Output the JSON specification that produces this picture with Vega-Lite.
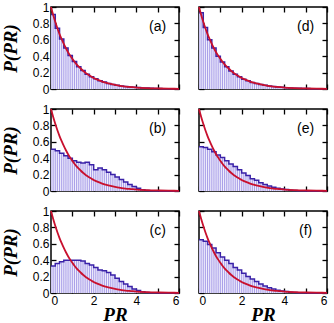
{
  "$schema": "https://vega.github.io/schema/vega-lite/v6.json",
  "padding": {"top": 0, "left": 0, "right": 5, "bottom": 0},
  "background": "white",
  "datasets": {
    "hist": [
      {"panel":"a","x":0,"p":0.91},{"panel":"a","x":0.2,"p":0.74},{"panel":"a","x":0.4,"p":0.61},{"panel":"a","x":0.6,"p":0.5},{"panel":"a","x":0.8,"p":0.41},{"panel":"a","x":1.0,"p":0.335},{"panel":"a","x":1.2,"p":0.27},{"panel":"a","x":1.4,"p":0.225},{"panel":"a","x":1.6,"p":0.18},{"panel":"a","x":1.8,"p":0.15},{"panel":"a","x":2.0,"p":0.125},{"panel":"a","x":2.2,"p":0.1},{"panel":"a","x":2.4,"p":0.085},{"panel":"a","x":2.6,"p":0.068},{"panel":"a","x":2.8,"p":0.056},{"panel":"a","x":3.0,"p":0.046},{"panel":"a","x":3.2,"p":0.037},{"panel":"a","x":3.4,"p":0.031},{"panel":"a","x":3.6,"p":0.025},{"panel":"a","x":3.8,"p":0.02},{"panel":"a","x":4.0,"p":0.017},{"panel":"a","x":4.2,"p":0.013},{"panel":"a","x":4.4,"p":0.011},{"panel":"a","x":4.6,"p":0.009},{"panel":"a","x":4.8,"p":0.007},{"panel":"a","x":5.0,"p":0.005},{"panel":"a","x":5.2,"p":0.004},{"panel":"a","x":5.4,"p":0.003},{"panel":"a","x":5.6,"p":0.003},{"panel":"a","x":5.8,"p":0.002},{"panel":"a","x":6.0,"p":0.002},
      {"panel":"d","x":0,"p":0.93},{"panel":"d","x":0.2,"p":0.75},{"panel":"d","x":0.4,"p":0.6},{"panel":"d","x":0.6,"p":0.5},{"panel":"d","x":0.8,"p":0.4},{"panel":"d","x":1.0,"p":0.33},{"panel":"d","x":1.2,"p":0.27},{"panel":"d","x":1.4,"p":0.22},{"panel":"d","x":1.6,"p":0.18},{"panel":"d","x":1.8,"p":0.15},{"panel":"d","x":2.0,"p":0.12},{"panel":"d","x":2.2,"p":0.1},{"panel":"d","x":2.4,"p":0.08},{"panel":"d","x":2.6,"p":0.066},{"panel":"d","x":2.8,"p":0.054},{"panel":"d","x":3.0,"p":0.045},{"panel":"d","x":3.2,"p":0.036},{"panel":"d","x":3.4,"p":0.03},{"panel":"d","x":3.6,"p":0.024},{"panel":"d","x":3.8,"p":0.02},{"panel":"d","x":4.0,"p":0.016},{"panel":"d","x":4.2,"p":0.013},{"panel":"d","x":4.4,"p":0.01},{"panel":"d","x":4.6,"p":0.008},{"panel":"d","x":4.8,"p":0.006},{"panel":"d","x":5.0,"p":0.005},{"panel":"d","x":5.2,"p":0.004},{"panel":"d","x":5.4,"p":0.003},{"panel":"d","x":5.6,"p":0.003},{"panel":"d","x":5.8,"p":0.002},{"panel":"d","x":6.0,"p":0.002},
      {"panel":"b","x":0,"p":0.51},{"panel":"b","x":0.2,"p":0.49},{"panel":"b","x":0.4,"p":0.46},{"panel":"b","x":0.6,"p":0.43},{"panel":"b","x":0.8,"p":0.4},{"panel":"b","x":1.0,"p":0.37},{"panel":"b","x":1.2,"p":0.35},{"panel":"b","x":1.4,"p":0.34},{"panel":"b","x":1.6,"p":0.35},{"panel":"b","x":1.8,"p":0.32},{"panel":"b","x":2.0,"p":0.26},{"panel":"b","x":2.2,"p":0.28},{"panel":"b","x":2.4,"p":0.26},{"panel":"b","x":2.6,"p":0.23},{"panel":"b","x":2.8,"p":0.2},{"panel":"b","x":3.0,"p":0.17},{"panel":"b","x":3.2,"p":0.14},{"panel":"b","x":3.4,"p":0.11},{"panel":"b","x":3.6,"p":0.08},{"panel":"b","x":3.8,"p":0.055},{"panel":"b","x":4.0,"p":0.035},{"panel":"b","x":4.2,"p":0.015},{"panel":"b","x":4.4,"p":0.007},{"panel":"b","x":4.6,"p":0.003},{"panel":"b","x":4.8,"p":0.002},{"panel":"b","x":5.0,"p":0.001},{"panel":"b","x":5.2,"p":0.001},{"panel":"b","x":5.4,"p":0.001},{"panel":"b","x":5.6,"p":0.001},{"panel":"b","x":5.8,"p":0.001},{"panel":"b","x":6.0,"p":0.001},
      {"panel":"e","x":0,"p":0.54},{"panel":"e","x":0.2,"p":0.53},{"panel":"e","x":0.4,"p":0.51},{"panel":"e","x":0.6,"p":0.48},{"panel":"e","x":0.8,"p":0.44},{"panel":"e","x":1.0,"p":0.41},{"panel":"e","x":1.2,"p":0.37},{"panel":"e","x":1.4,"p":0.33},{"panel":"e","x":1.6,"p":0.3},{"panel":"e","x":1.8,"p":0.26},{"panel":"e","x":2.0,"p":0.22},{"panel":"e","x":2.2,"p":0.19},{"panel":"e","x":2.4,"p":0.15},{"panel":"e","x":2.6,"p":0.13},{"panel":"e","x":2.8,"p":0.1},{"panel":"e","x":3.0,"p":0.08},{"panel":"e","x":3.2,"p":0.06},{"panel":"e","x":3.4,"p":0.045},{"panel":"e","x":3.6,"p":0.035},{"panel":"e","x":3.8,"p":0.025},{"panel":"e","x":4.0,"p":0.018},{"panel":"e","x":4.2,"p":0.01},{"panel":"e","x":4.4,"p":0.006},{"panel":"e","x":4.6,"p":0.003},{"panel":"e","x":4.8,"p":0.002},{"panel":"e","x":5.0,"p":0.001},{"panel":"e","x":5.2,"p":0.001},{"panel":"e","x":5.4,"p":0.001},{"panel":"e","x":5.6,"p":0.001},{"panel":"e","x":5.8,"p":0.001},{"panel":"e","x":6.0,"p":0.001},
      {"panel":"c","x":0,"p":0.33},{"panel":"c","x":0.2,"p":0.36},{"panel":"c","x":0.4,"p":0.38},{"panel":"c","x":0.6,"p":0.4},{"panel":"c","x":0.8,"p":0.4},{"panel":"c","x":1.0,"p":0.4},{"panel":"c","x":1.2,"p":0.4},{"panel":"c","x":1.4,"p":0.39},{"panel":"c","x":1.6,"p":0.36},{"panel":"c","x":1.8,"p":0.34},{"panel":"c","x":2.0,"p":0.31},{"panel":"c","x":2.2,"p":0.28},{"panel":"c","x":2.4,"p":0.27},{"panel":"c","x":2.6,"p":0.25},{"panel":"c","x":2.8,"p":0.22},{"panel":"c","x":3.0,"p":0.18},{"panel":"c","x":3.2,"p":0.14},{"panel":"c","x":3.4,"p":0.11},{"panel":"c","x":3.6,"p":0.08},{"panel":"c","x":3.8,"p":0.05},{"panel":"c","x":4.0,"p":0.03},{"panel":"c","x":4.2,"p":0.015},{"panel":"c","x":4.4,"p":0.007},{"panel":"c","x":4.6,"p":0.003},{"panel":"c","x":4.8,"p":0.002},{"panel":"c","x":5.0,"p":0.001},{"panel":"c","x":5.2,"p":0.001},{"panel":"c","x":5.4,"p":0.001},{"panel":"c","x":5.6,"p":0.001},{"panel":"c","x":5.8,"p":0.001},{"panel":"c","x":6.0,"p":0.001},
      {"panel":"f","x":0,"p":0.65},{"panel":"f","x":0.2,"p":0.63},{"panel":"f","x":0.4,"p":0.59},{"panel":"f","x":0.6,"p":0.55},{"panel":"f","x":0.8,"p":0.49},{"panel":"f","x":1.0,"p":0.44},{"panel":"f","x":1.2,"p":0.4},{"panel":"f","x":1.4,"p":0.36},{"panel":"f","x":1.6,"p":0.31},{"panel":"f","x":1.8,"p":0.28},{"panel":"f","x":2.0,"p":0.24},{"panel":"f","x":2.2,"p":0.2},{"panel":"f","x":2.4,"p":0.17},{"panel":"f","x":2.6,"p":0.14},{"panel":"f","x":2.8,"p":0.11},{"panel":"f","x":3.0,"p":0.085},{"panel":"f","x":3.2,"p":0.065},{"panel":"f","x":3.4,"p":0.05},{"panel":"f","x":3.6,"p":0.035},{"panel":"f","x":3.8,"p":0.025},{"panel":"f","x":4.0,"p":0.018},{"panel":"f","x":4.2,"p":0.01},{"panel":"f","x":4.4,"p":0.006},{"panel":"f","x":4.6,"p":0.003},{"panel":"f","x":4.8,"p":0.002},{"panel":"f","x":5.0,"p":0.001},{"panel":"f","x":5.2,"p":0.001},{"panel":"f","x":5.4,"p":0.001},{"panel":"f","x":5.6,"p":0.001},{"panel":"f","x":5.8,"p":0.001},{"panel":"f","x":6.0,"p":0.001}
    ],
    "curve": [
      {"x":0,"p":1},{"x":0.1,"p":0.905},{"x":0.2,"p":0.819},{"x":0.3,"p":0.741},{"x":0.4,"p":0.67},{"x":0.5,"p":0.607},{"x":0.6,"p":0.549},{"x":0.7,"p":0.497},{"x":0.8,"p":0.449},{"x":0.9,"p":0.407},{"x":1.0,"p":0.368},{"x":1.1,"p":0.333},{"x":1.2,"p":0.301},{"x":1.3,"p":0.273},{"x":1.4,"p":0.247},{"x":1.5,"p":0.223},{"x":1.6,"p":0.202},{"x":1.7,"p":0.183},{"x":1.8,"p":0.165},{"x":1.9,"p":0.15},{"x":2.0,"p":0.135},{"x":2.2,"p":0.111},{"x":2.4,"p":0.091},{"x":2.6,"p":0.074},{"x":2.8,"p":0.061},{"x":3.0,"p":0.05},{"x":3.25,"p":0.039},{"x":3.5,"p":0.03},{"x":3.75,"p":0.024},{"x":4.0,"p":0.018},{"x":4.5,"p":0.011},{"x":5.0,"p":0.0067},{"x":5.5,"p":0.0041},{"x":6.0,"p":0.0025}
    ],
    "labels": [
      {"panel":"a","lab":"(a)"},{"panel":"b","lab":"(b)"},{"panel":"c","lab":"(c)"},{"panel":"d","lab":"(d)"},{"panel":"e","lab":"(e)"},{"panel":"f","lab":"(f)"}
    ]
  },
  "columns": 2,
  "bounds": "flush",
  "spacing": {"row": 20, "column": 20},
  "concat": [
    {"width":128,"height":82,"layer":[
      {"data":{"name":"hist"},"transform":[{"filter":"datum.panel === 'a'"}],"mark":{"type":"area","interpolate":"step-after"},"encoding":{"x":{"field":"x","type":"quantitative","scale":{"domain":[0,6],"nice":false},"axis":{"orient":"bottom","values":[0,1,2,3,4,5,6],"labels":false,"title":null}},"y":{"field":"p","type":"quantitative","scale":{"domain":[0,1],"nice":false},"axis":{"orient":"left","values":[0,0.2,0.4,0.6,0.8,1],"format":"~g","title":"P(PR)","titlePadding":12}}}},
      {"data":{"name":"hist"},"transform":[{"filter":"datum.panel === 'a'"}],"mark":{"type":"line","interpolate":"step-after","color":"#3a22a8","strokeWidth":1.5},"encoding":{"x":{"field":"x","type":"quantitative","axis":{"orient":"top","values":[0,1,2,3,4,5,6],"labels":false,"title":null}},"y":{"field":"p","type":"quantitative","axis":{"orient":"right","values":[0,0.2,0.4,0.6,0.8,1],"labels":false,"title":null}}}},
      {"data":{"name":"curve"},"mark":{"type":"line","interpolate":"monotone","color":"#c8102e","strokeWidth":1.8},"encoding":{"x":{"field":"x","type":"quantitative","axis":null},"y":{"field":"p","type":"quantitative","axis":null}}},
      {"data":{"name":"labels"},"transform":[{"filter":"datum.panel === 'a'"}],"mark":{"type":"text","font":"Liberation Sans","fontSize":14,"color":"black"},"encoding":{"x":{"datum":5.0,"type":"quantitative","axis":null},"y":{"datum":0.76,"type":"quantitative","axis":null},"text":{"field":"lab"}}}
    ],"resolve":{"axis":{"x":"independent","y":"independent"}}},
    {"width":128,"height":82,"layer":[
      {"data":{"name":"hist"},"transform":[{"filter":"datum.panel === 'd'"}],"mark":{"type":"area","interpolate":"step-after"},"encoding":{"x":{"field":"x","type":"quantitative","scale":{"domain":[0,6],"nice":false},"axis":{"orient":"bottom","values":[0,1,2,3,4,5,6],"labels":false,"title":null}},"y":{"field":"p","type":"quantitative","scale":{"domain":[0,1],"nice":false},"axis":{"orient":"left","values":[0,0.2,0.4,0.6,0.8,1],"labels":false,"title":null}}}},
      {"data":{"name":"hist"},"transform":[{"filter":"datum.panel === 'd'"}],"mark":{"type":"line","interpolate":"step-after","color":"#3a22a8","strokeWidth":1.5},"encoding":{"x":{"field":"x","type":"quantitative","axis":{"orient":"top","values":[0,1,2,3,4,5,6],"labels":false,"title":null}},"y":{"field":"p","type":"quantitative","axis":{"orient":"right","values":[0,0.2,0.4,0.6,0.8,1],"labels":false,"title":null}}}},
      {"data":{"name":"curve"},"mark":{"type":"line","interpolate":"monotone","color":"#c8102e","strokeWidth":1.8},"encoding":{"x":{"field":"x","type":"quantitative","axis":null},"y":{"field":"p","type":"quantitative","axis":null}}},
      {"data":{"name":"labels"},"transform":[{"filter":"datum.panel === 'd'"}],"mark":{"type":"text","font":"Liberation Sans","fontSize":14,"color":"black"},"encoding":{"x":{"datum":5.0,"type":"quantitative","axis":null},"y":{"datum":0.76,"type":"quantitative","axis":null},"text":{"field":"lab"}}}
    ],"resolve":{"axis":{"x":"independent","y":"independent"}}},
    {"width":128,"height":82,"layer":[
      {"data":{"name":"hist"},"transform":[{"filter":"datum.panel === 'b'"}],"mark":{"type":"area","interpolate":"step-after"},"encoding":{"x":{"field":"x","type":"quantitative","scale":{"domain":[0,6],"nice":false},"axis":{"orient":"bottom","values":[0,1,2,3,4,5,6],"labels":false,"title":null}},"y":{"field":"p","type":"quantitative","scale":{"domain":[0,1],"nice":false},"axis":{"orient":"left","values":[0,0.2,0.4,0.6,0.8,1],"format":"~g","title":"P(PR)","titlePadding":12}}}},
      {"data":{"name":"hist"},"transform":[{"filter":"datum.panel === 'b'"}],"mark":{"type":"line","interpolate":"step-after","color":"#3a22a8","strokeWidth":1.5},"encoding":{"x":{"field":"x","type":"quantitative","axis":{"orient":"top","values":[0,1,2,3,4,5,6],"labels":false,"title":null}},"y":{"field":"p","type":"quantitative","axis":{"orient":"right","values":[0,0.2,0.4,0.6,0.8,1],"labels":false,"title":null}}}},
      {"data":{"name":"curve"},"mark":{"type":"line","interpolate":"monotone","color":"#c8102e","strokeWidth":1.8},"encoding":{"x":{"field":"x","type":"quantitative","axis":null},"y":{"field":"p","type":"quantitative","axis":null}}},
      {"data":{"name":"labels"},"transform":[{"filter":"datum.panel === 'b'"}],"mark":{"type":"text","font":"Liberation Sans","fontSize":14,"color":"black"},"encoding":{"x":{"datum":5.0,"type":"quantitative","axis":null},"y":{"datum":0.76,"type":"quantitative","axis":null},"text":{"field":"lab"}}}
    ],"resolve":{"axis":{"x":"independent","y":"independent"}}},
    {"width":128,"height":82,"layer":[
      {"data":{"name":"hist"},"transform":[{"filter":"datum.panel === 'e'"}],"mark":{"type":"area","interpolate":"step-after"},"encoding":{"x":{"field":"x","type":"quantitative","scale":{"domain":[0,6],"nice":false},"axis":{"orient":"bottom","values":[0,1,2,3,4,5,6],"labels":false,"title":null}},"y":{"field":"p","type":"quantitative","scale":{"domain":[0,1],"nice":false},"axis":{"orient":"left","values":[0,0.2,0.4,0.6,0.8,1],"labels":false,"title":null}}}},
      {"data":{"name":"hist"},"transform":[{"filter":"datum.panel === 'e'"}],"mark":{"type":"line","interpolate":"step-after","color":"#3a22a8","strokeWidth":1.5},"encoding":{"x":{"field":"x","type":"quantitative","axis":{"orient":"top","values":[0,1,2,3,4,5,6],"labels":false,"title":null}},"y":{"field":"p","type":"quantitative","axis":{"orient":"right","values":[0,0.2,0.4,0.6,0.8,1],"labels":false,"title":null}}}},
      {"data":{"name":"curve"},"mark":{"type":"line","interpolate":"monotone","color":"#c8102e","strokeWidth":1.8},"encoding":{"x":{"field":"x","type":"quantitative","axis":null},"y":{"field":"p","type":"quantitative","axis":null}}},
      {"data":{"name":"labels"},"transform":[{"filter":"datum.panel === 'e'"}],"mark":{"type":"text","font":"Liberation Sans","fontSize":14,"color":"black"},"encoding":{"x":{"datum":5.0,"type":"quantitative","axis":null},"y":{"datum":0.76,"type":"quantitative","axis":null},"text":{"field":"lab"}}}
    ],"resolve":{"axis":{"x":"independent","y":"independent"}}},
    {"width":128,"height":82,"layer":[
      {"data":{"name":"hist"},"transform":[{"filter":"datum.panel === 'c'"}],"mark":{"type":"area","interpolate":"step-after"},"encoding":{"x":{"field":"x","type":"quantitative","scale":{"domain":[0,6],"nice":false},"axis":{"orient":"bottom","values":[0,1,2,3,4,5,6],"labelExpr":"datum.value % 2 === 0 ? datum.label : ''","title":"PR","titlePadding":-1}},"y":{"field":"p","type":"quantitative","scale":{"domain":[0,1],"nice":false},"axis":{"orient":"left","values":[0,0.2,0.4,0.6,0.8,1],"format":"~g","title":"P(PR)","titlePadding":12}}}},
      {"data":{"name":"hist"},"transform":[{"filter":"datum.panel === 'c'"}],"mark":{"type":"line","interpolate":"step-after","color":"#3a22a8","strokeWidth":1.5},"encoding":{"x":{"field":"x","type":"quantitative","axis":{"orient":"top","values":[0,1,2,3,4,5,6],"labels":false,"title":null}},"y":{"field":"p","type":"quantitative","axis":{"orient":"right","values":[0,0.2,0.4,0.6,0.8,1],"labels":false,"title":null}}}},
      {"data":{"name":"curve"},"mark":{"type":"line","interpolate":"monotone","color":"#c8102e","strokeWidth":1.8},"encoding":{"x":{"field":"x","type":"quantitative","axis":null},"y":{"field":"p","type":"quantitative","axis":null}}},
      {"data":{"name":"labels"},"transform":[{"filter":"datum.panel === 'c'"}],"mark":{"type":"text","font":"Liberation Sans","fontSize":14,"color":"black"},"encoding":{"x":{"datum":5.0,"type":"quantitative","axis":null},"y":{"datum":0.76,"type":"quantitative","axis":null},"text":{"field":"lab"}}}
    ],"resolve":{"axis":{"x":"independent","y":"independent"}}},
    {"width":128,"height":82,"layer":[
      {"data":{"name":"hist"},"transform":[{"filter":"datum.panel === 'f'"}],"mark":{"type":"area","interpolate":"step-after"},"encoding":{"x":{"field":"x","type":"quantitative","scale":{"domain":[0,6],"nice":false},"axis":{"orient":"bottom","values":[0,1,2,3,4,5,6],"labelExpr":"datum.value % 2 === 0 ? datum.label : ''","title":"PR","titlePadding":-1}},"y":{"field":"p","type":"quantitative","scale":{"domain":[0,1],"nice":false},"axis":{"orient":"left","values":[0,0.2,0.4,0.6,0.8,1],"labels":false,"title":null}}}},
      {"data":{"name":"hist"},"transform":[{"filter":"datum.panel === 'f'"}],"mark":{"type":"line","interpolate":"step-after","color":"#3a22a8","strokeWidth":1.5},"encoding":{"x":{"field":"x","type":"quantitative","axis":{"orient":"top","values":[0,1,2,3,4,5,6],"labels":false,"title":null}},"y":{"field":"p","type":"quantitative","axis":{"orient":"right","values":[0,0.2,0.4,0.6,0.8,1],"labels":false,"title":null}}}},
      {"data":{"name":"curve"},"mark":{"type":"line","interpolate":"monotone","color":"#c8102e","strokeWidth":1.8},"encoding":{"x":{"field":"x","type":"quantitative","axis":null},"y":{"field":"p","type":"quantitative","axis":null}}},
      {"data":{"name":"labels"},"transform":[{"filter":"datum.panel === 'f'"}],"mark":{"type":"text","font":"Liberation Sans","fontSize":14,"color":"black"},"encoding":{"x":{"datum":5.0,"type":"quantitative","axis":null},"y":{"datum":0.76,"type":"quantitative","axis":null},"text":{"field":"lab"}}}
    ],"resolve":{"axis":{"x":"independent","y":"independent"}}}
  ],
  "config": {
    "view": {"stroke": "black", "strokeWidth": 1.5},
    "area": {"color": {"gradient": "linear", "x1": 0, "x2": 1, "y1": 0, "y2": 0, "stops": [
      {"offset":0,"color":"#a89ee8"},{"offset":0.0083,"color":"#f2f0fd"},{"offset":0.0167,"color":"#a89ee8"},{"offset":0.025,"color":"#f2f0fd"},{"offset":0.0333,"color":"#a89ee8"},{"offset":0.0417,"color":"#f2f0fd"},{"offset":0.05,"color":"#a89ee8"},{"offset":0.0583,"color":"#f2f0fd"},{"offset":0.0667,"color":"#a89ee8"},{"offset":0.075,"color":"#f2f0fd"},{"offset":0.0833,"color":"#a89ee8"},{"offset":0.0917,"color":"#f2f0fd"},
      {"offset":0.1,"color":"#a89ee8"},{"offset":0.1083,"color":"#f2f0fd"},{"offset":0.1167,"color":"#a89ee8"},{"offset":0.125,"color":"#f2f0fd"},{"offset":0.1333,"color":"#a89ee8"},{"offset":0.1417,"color":"#f2f0fd"},{"offset":0.15,"color":"#a89ee8"},{"offset":0.1583,"color":"#f2f0fd"},{"offset":0.1667,"color":"#a89ee8"},{"offset":0.175,"color":"#f2f0fd"},{"offset":0.1833,"color":"#a89ee8"},{"offset":0.1917,"color":"#f2f0fd"},
      {"offset":0.2,"color":"#a89ee8"},{"offset":0.2083,"color":"#f2f0fd"},{"offset":0.2167,"color":"#a89ee8"},{"offset":0.225,"color":"#f2f0fd"},{"offset":0.2333,"color":"#a89ee8"},{"offset":0.2417,"color":"#f2f0fd"},{"offset":0.25,"color":"#a89ee8"},{"offset":0.2583,"color":"#f2f0fd"},{"offset":0.2667,"color":"#a89ee8"},{"offset":0.275,"color":"#f2f0fd"},{"offset":0.2833,"color":"#a89ee8"},{"offset":0.2917,"color":"#f2f0fd"},
      {"offset":0.3,"color":"#a89ee8"},{"offset":0.3083,"color":"#f2f0fd"},{"offset":0.3167,"color":"#a89ee8"},{"offset":0.325,"color":"#f2f0fd"},{"offset":0.3333,"color":"#a89ee8"},{"offset":0.3417,"color":"#f2f0fd"},{"offset":0.35,"color":"#a89ee8"},{"offset":0.3583,"color":"#f2f0fd"},{"offset":0.3667,"color":"#a89ee8"},{"offset":0.375,"color":"#f2f0fd"},{"offset":0.3833,"color":"#a89ee8"},{"offset":0.3917,"color":"#f2f0fd"},
      {"offset":0.4,"color":"#a89ee8"},{"offset":0.4083,"color":"#f2f0fd"},{"offset":0.4167,"color":"#a89ee8"},{"offset":0.425,"color":"#f2f0fd"},{"offset":0.4333,"color":"#a89ee8"},{"offset":0.4417,"color":"#f2f0fd"},{"offset":0.45,"color":"#a89ee8"},{"offset":0.4583,"color":"#f2f0fd"},{"offset":0.4667,"color":"#a89ee8"},{"offset":0.475,"color":"#f2f0fd"},{"offset":0.4833,"color":"#a89ee8"},{"offset":0.4917,"color":"#f2f0fd"},
      {"offset":0.5,"color":"#a89ee8"},{"offset":0.5083,"color":"#f2f0fd"},{"offset":0.5167,"color":"#a89ee8"},{"offset":0.525,"color":"#f2f0fd"},{"offset":0.5333,"color":"#a89ee8"},{"offset":0.5417,"color":"#f2f0fd"},{"offset":0.55,"color":"#a89ee8"},{"offset":0.5583,"color":"#f2f0fd"},{"offset":0.5667,"color":"#a89ee8"},{"offset":0.575,"color":"#f2f0fd"},{"offset":0.5833,"color":"#a89ee8"},{"offset":0.5917,"color":"#f2f0fd"},
      {"offset":0.6,"color":"#a89ee8"},{"offset":0.6083,"color":"#f2f0fd"},{"offset":0.6167,"color":"#a89ee8"},{"offset":0.625,"color":"#f2f0fd"},{"offset":0.6333,"color":"#a89ee8"},{"offset":0.6417,"color":"#f2f0fd"},{"offset":0.65,"color":"#a89ee8"},{"offset":0.6583,"color":"#f2f0fd"},{"offset":0.6667,"color":"#a89ee8"},{"offset":0.675,"color":"#f2f0fd"},{"offset":0.6833,"color":"#a89ee8"},{"offset":0.6917,"color":"#f2f0fd"},
      {"offset":0.7,"color":"#a89ee8"},{"offset":0.7083,"color":"#f2f0fd"},{"offset":0.7167,"color":"#a89ee8"},{"offset":0.725,"color":"#f2f0fd"},{"offset":0.7333,"color":"#a89ee8"},{"offset":0.7417,"color":"#f2f0fd"},{"offset":0.75,"color":"#a89ee8"},{"offset":0.7583,"color":"#f2f0fd"},{"offset":0.7667,"color":"#a89ee8"},{"offset":0.775,"color":"#f2f0fd"},{"offset":0.7833,"color":"#a89ee8"},{"offset":0.7917,"color":"#f2f0fd"},
      {"offset":0.8,"color":"#a89ee8"},{"offset":0.8083,"color":"#f2f0fd"},{"offset":0.8167,"color":"#a89ee8"},{"offset":0.825,"color":"#f2f0fd"},{"offset":0.8333,"color":"#a89ee8"},{"offset":0.8417,"color":"#f2f0fd"},{"offset":0.85,"color":"#a89ee8"},{"offset":0.8583,"color":"#f2f0fd"},{"offset":0.8667,"color":"#a89ee8"},{"offset":0.875,"color":"#f2f0fd"},{"offset":0.8833,"color":"#a89ee8"},{"offset":0.8917,"color":"#f2f0fd"},
      {"offset":0.9,"color":"#a89ee8"},{"offset":0.9083,"color":"#f2f0fd"},{"offset":0.9167,"color":"#a89ee8"},{"offset":0.925,"color":"#f2f0fd"},{"offset":0.9333,"color":"#a89ee8"},{"offset":0.9417,"color":"#f2f0fd"},{"offset":0.95,"color":"#a89ee8"},{"offset":0.9583,"color":"#f2f0fd"},{"offset":0.9667,"color":"#a89ee8"},{"offset":0.975,"color":"#f2f0fd"},{"offset":0.9833,"color":"#a89ee8"},{"offset":0.9917,"color":"#f2f0fd"},
      {"offset":1,"color":"#a89ee8"}
    ]}},
    "axis": {
      "domain": false, "grid": false, "ticks": true, "tickColor": "black", "tickSize": -5, "tickWidth": 1.3,
      "labelFont": "Liberation Sans", "labelFontSize": 12, "labelColor": "black", "labelPadding": 7,
      "titleFont": "Liberation Serif", "titleFontSize": 19, "titleFontWeight": "bold", "titleFontStyle": "italic", "titleColor": "black", "titlePadding": 2
    }
  }
}
